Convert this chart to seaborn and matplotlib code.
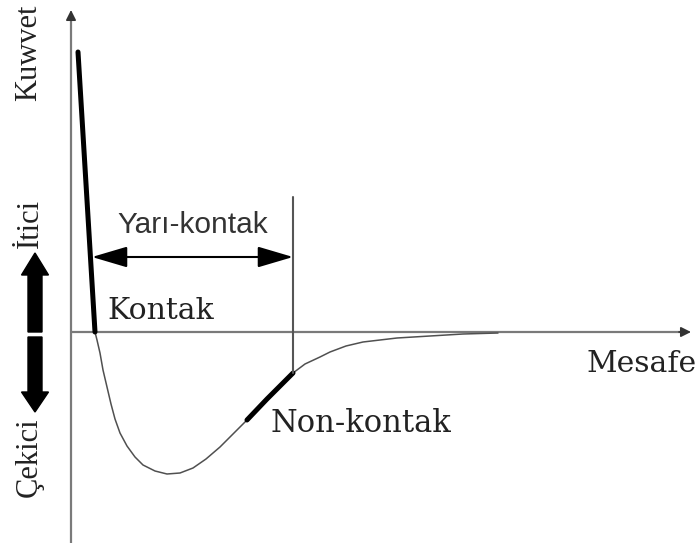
import numpy as np
import pandas as pd
import matplotlib
matplotlib.use("Agg")
import matplotlib.pyplot as plt
import seaborn as sns

# ---- data (distance / force, arbitrary units) ----
curve_distance = [24, 26, 29, 32, 36, 40, 44, 49, 56, 64, 72, 84, 96, 109, 122, 135,
                  149, 162, 176, 196, 222, 234, 249, 259, 275, 292, 326, 359, 392, 427]
curve_force = [0, -8, -21, -38, -55, -72, -87, -101, -114, -125, -133, -139, -142, -141,
               -136, -127, -115, -102, -88, -67, -41, -32, -25, -20, -14, -10, -6, -4, -2, -1]
contact_distance = [7, 24]
contact_force = [280, 0]
noncontact_range = [176, 222]      # distance range of the non-contact regime
semicontact_range = [21, 222]      # distance range of the semi-contact regime

labels = {
    "x": "Mesafe",
    "y": "Kuwvet",
    "rep": "İtici",
    "att": "Çekici",
    "contact": "Kontak",
    "semi": "Yarı-kontak",
    "noncontact": "Non-kontak",
}

sns.set_theme(style="white")

fig = plt.figure(figsize=(7.0, 5.43), dpi=100)
ax = fig.add_axes([0, 0, 1, 1])
ax.set_xlim(-71, 629)
ax.set_ylim(-211, 332)
ax.axis("off")

df = pd.DataFrame({"distance": curve_distance, "force": curve_force})
nc = df[(df["distance"] >= noncontact_range[0]) & (df["distance"] <= noncontact_range[1])]
ct = pd.DataFrame({"distance": contact_distance, "force": contact_force})

axis_col = "#7a7a7a"
# axes with arrowheads
ax.plot([0, 0], [-211, 318], color=axis_col, lw=1.6, solid_capstyle="butt")
ax.annotate("", xy=(0, 322), xytext=(0, 312),
            arrowprops=dict(arrowstyle="-|>,head_length=0.6,head_width=0.3",
                            mutation_scale=10, color="#333333", lw=1.2,
                            shrinkA=0, shrinkB=0))
ax.plot([0, 612], [0, 0], color=axis_col, lw=1.6, solid_capstyle="butt")
ax.annotate("", xy=(620, 0), xytext=(608, 0),
            arrowprops=dict(arrowstyle="-|>,head_length=0.6,head_width=0.3",
                            mutation_scale=10, color="#333333", lw=1.2,
                            shrinkA=0, shrinkB=0))

# force curve
sns.lineplot(data=df, x="distance", y="force", sort=False, ax=ax,
             color="#505050", lw=1.1, legend=False)
sns.lineplot(data=ct, x="distance", y="force", sort=False, ax=ax,
             color="black", lw=3.6, legend=False)
sns.lineplot(data=nc, x="distance", y="force", sort=False, ax=ax,
             color="black", lw=3.6, legend=False)

# semi-contact marker
end_force = float(np.interp(semicontact_range[1], curve_distance, curve_force))
ax.plot([semicontact_range[1]] * 2, [end_force, 135], color="#555555", lw=1.5)
ax.annotate("", xy=(semicontact_range[1], 75), xytext=(semicontact_range[0], 75),
            arrowprops=dict(arrowstyle="<|-|>,head_length=2.2,head_width=0.65",
                            mutation_scale=10, color="black", lw=1.5,
                            shrinkA=0, shrinkB=0))

# thick attractive / repulsive arrows
ax.arrow(-36, 0, 0, 79, width=14, head_width=27, head_length=22,
         length_includes_head=True, color="black")
ax.arrow(-36, -5, 0, -75, width=14, head_width=27, head_length=20,
         length_includes_head=True, color="black")

serif = "DejaVu Serif"
tc = "#222222"
ax.text(122, 107, labels["semi"], family="Liberation Sans", fontsize=21.5,
        color="#333333", ha="center", va="center")
ax.text(36, 13, labels["contact"], family=serif, fontsize=21.5, color=tc,
        ha="left", va="baseline")
ax.text(200, -100, labels["noncontact"], family=serif, fontsize=22, color=tc,
        ha="left", va="baseline")
ax.text(626, -40, labels["x"], family=serif, fontsize=21.5, color=tc,
        ha="right", va="baseline")

rot_font = "Liberation Serif"
ax.text(-42, 279, labels["y"], family=rot_font, fontsize=22, color=tc,
        rotation=90, ha="center", va="center")
ax.text(-41, 109, labels["rep"], family=rot_font, fontsize=22, color=tc,
        rotation=90, ha="center", va="center")
ax.text(-42, -125, labels["att"], family=rot_font, fontsize=22, color=tc,
        rotation=90, ha="center", va="center")

fig.savefig("out.png", dpi=100, facecolor="white")
